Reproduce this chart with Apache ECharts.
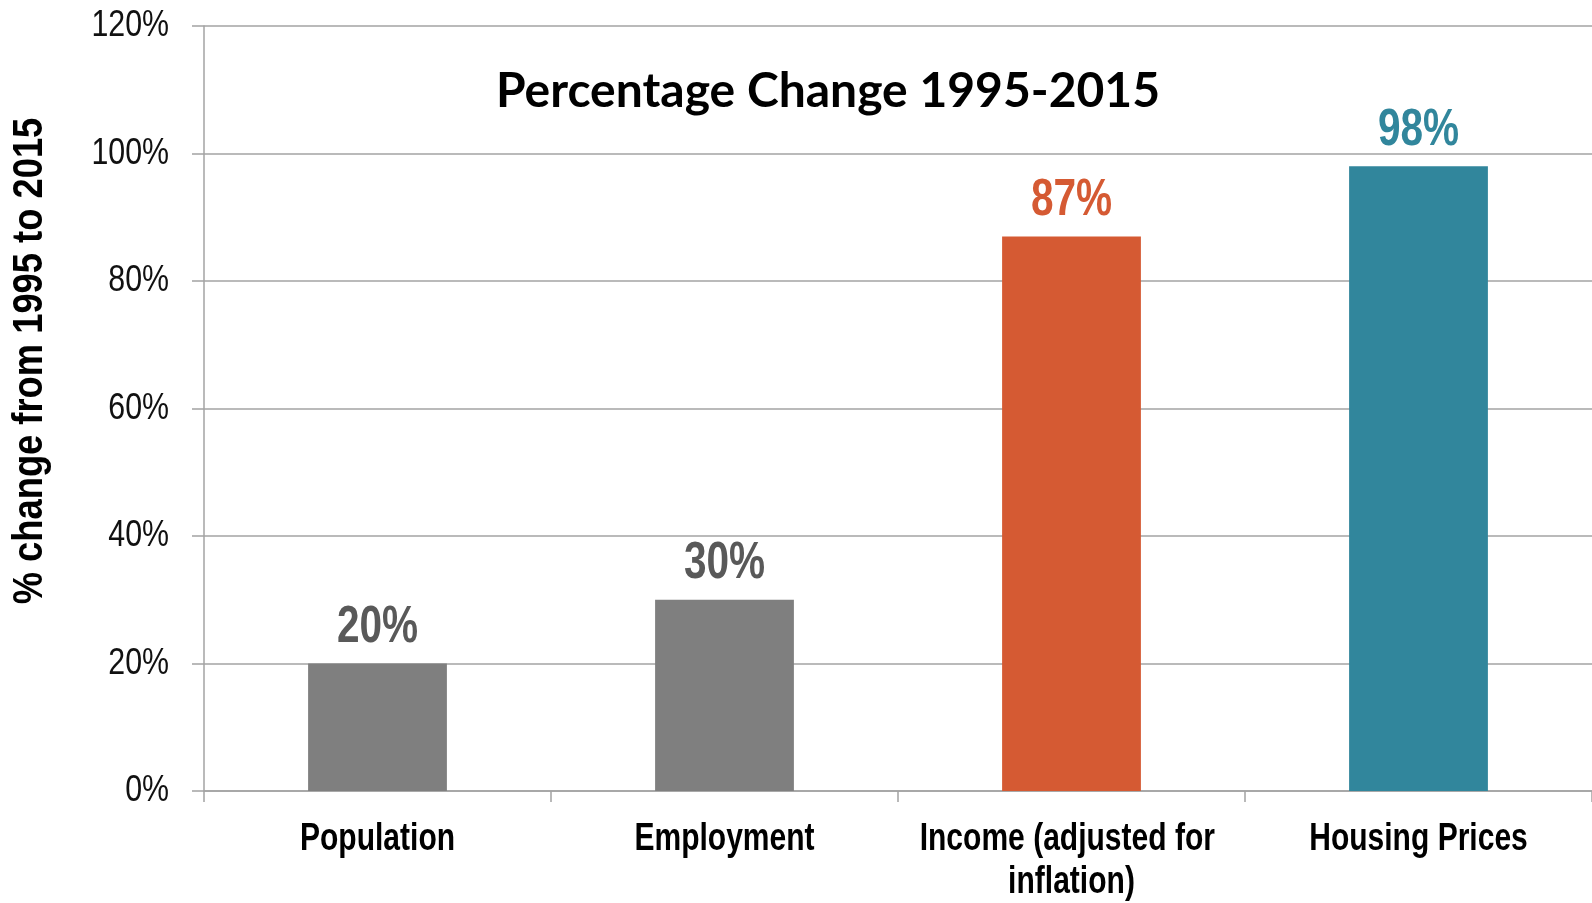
<!DOCTYPE html>
<html>
<head>
<meta charset="utf-8">
<script src="https://cdn.jsdelivr.net/npm/echarts@6/dist/echarts.min.js"></script>
<style>
  html, body { margin: 0; padding: 0; background: #fff; }
  #chart { width: 1592px; height: 903px; }
</style>
</head>
<body>
<div id="chart"></div>
<script>
// Percentage change 1995-2015 by indicator
const categories = ['Population', 'Employment', 'Income (adjusted for inflation)', 'Housing Prices'];
const values = [20, 30, 87, 98];
const barColors = ['#7f7f7f', '#7f7f7f', '#d55a33', '#31869c'];
const labelColors = ['#595959', '#595959', '#d55a33', '#31869c'];
const yTickValues = [0, 20, 40, 60, 80, 100, 120];

const SANS = '"Liberation Sans", Arial, sans-serif';
const GRID_COLOR = '#a3a3a3';

// Liberation Sans squeezed horizontally gives a condensed grotesque look
function condensedText(x, y, text, o) {
  return {
    type: 'text',
    x: x,
    y: y,
    scaleX: o.scaleX,
    silent: true,
    style: {
      text: text,
      fontFamily: SANS,
      fontWeight: o.weight || 'bold',
      fontSize: o.size,
      lineHeight: o.lineHeight,
      width: o.width,
      overflow: o.width ? 'break' : undefined,
      fill: o.color || '#000',
      align: o.align || 'center',
      verticalAlign: o.valign || 'middle'
    }
  };
}

const chart = echarts.init(document.getElementById('chart'), null, { renderer: 'canvas' });

chart.setOption({
  animation: false,
  backgroundColor: '#ffffff',
  title: {
    text: 'Percentage Change 1995-2015',
    left: 823,
    top: 63,
    textAlign: 'center',
    textStyle: {
      fontFamily: 'Lato, "Open Sans", sans-serif',
      fontWeight: 'bold',
      fontSize: 48,
      color: '#000'
    }
  },
  graphic: [Object.assign(
    condensedText(30, 361, '% change from 1995 to 2015', { size: 42, scaleX: 0.865 }),
    { rotation: Math.PI / 2 }
  )],
  grid: { left: 204, right: 0, top: 26, bottom: 112, containLabel: false },
  xAxis: {
    type: 'category',
    data: categories,
    axisLine: { lineStyle: { color: GRID_COLOR, width: 1.5 } },
    axisTick: { show: true, length: 11, lineStyle: { color: GRID_COLOR, width: 1.5 } },
    axisLabel: { show: false }
  },
  yAxis: {
    type: 'value',
    min: 0,
    max: 120,
    interval: 20,
    axisLine: { show: true, lineStyle: { color: GRID_COLOR, width: 1.5 } },
    axisTick: { show: true, length: 12, lineStyle: { color: GRID_COLOR, width: 1.5 } },
    splitLine: { show: true, lineStyle: { color: GRID_COLOR, width: 1.5 } },
    axisLabel: { show: false }
  },
  series: [
    {
      type: 'bar',
      barWidth: '40%',
      data: values.map((v, i) => ({ value: v, itemStyle: { color: barColors[i] } }))
    },
    {
      // value labels above each bar
      type: 'custom',
      data: values.map((v, i) => [i, v]),
      z: 5,
      renderItem: function (params, api) {
        const i = api.value(0);
        const p = api.coord([i, api.value(1)]);
        return condensedText(p[0], p[1] - 36, api.value(1) + '%', {
          size: 52, scaleX: 0.78, color: labelColors[i]
        });
      }
    },
    {
      // category labels under the axis
      type: 'custom',
      data: categories.map((c, i) => [i, 0]),
      z: 5,
      renderItem: function (params, api) {
        const i = api.value(0);
        const p = api.coord([i, 0]);
        return condensedText(p[0], p[1] + 27, categories[i], {
          size: 39, scaleX: 0.77, lineHeight: 43, width: 420, valign: 'top'
        });
      }
    },
    {
      // value-axis tick labels
      type: 'custom',
      data: yTickValues.map(v => [0, v]),
      z: 5,
      renderItem: function (params, api) {
        const p = api.coord([0, api.value(1)]);
        return condensedText(params.coordSys.x - 35, p[1], api.value(1) + '%', {
          size: 37, scaleX: 0.82, weight: 'normal', color: '#111', align: 'right'
        });
      }
    }
  ]
});
</script>
</body>
</html>
